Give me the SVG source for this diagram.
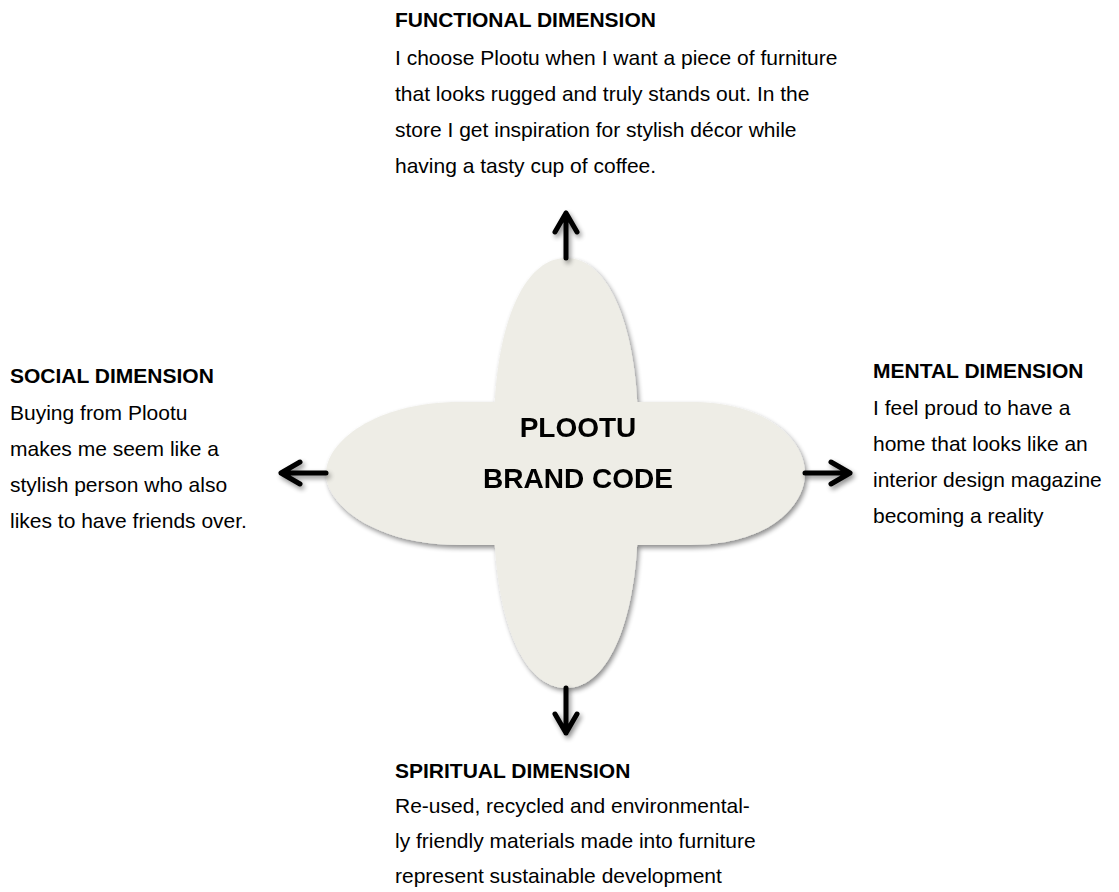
<svg xmlns="http://www.w3.org/2000/svg" width="1119" height="892" viewBox="0 0 1119 892">
<defs>
<filter id="sh" x="-20%" y="-20%" width="140%" height="140%">
<feGaussianBlur in="SourceAlpha" stdDeviation="2.5"/>
<feOffset dx="2" dy="3" result="b"/>
<feComponentTransfer><feFuncA type="linear" slope="0.45"/></feComponentTransfer>
<feMerge><feMergeNode/><feMergeNode in="SourceGraphic"/></feMerge>
</filter>
</defs>
<style>
.t{font-family:"Liberation Sans",Arial,sans-serif;font-size:21px;fill:#000}
.h{font-weight:bold}
.c{font-family:"Liberation Sans",Arial,sans-serif;font-size:28px;font-weight:bold;fill:#000;text-anchor:middle}
.shape{fill:#EEEDE6}
.arr{fill:none;stroke:#000;stroke-width:5;stroke-linecap:round;stroke-linejoin:round}
</style>
<g id="center" filter="url(#sh)">
<path class="shape" d="M494,430 C494,330 522,258 566,258 C610,258 638,330 638,430 L638,516 C638,616 610,688 566,688 C522,688 494,616 494,516 Z"/>
<path class="shape" d="M460,402 L690,402 C770,402 805,442 805,473.5 C805,505 770,545 690,545 L460,545 C375,545 326,505 326,473.5 C326,442 375,402 460,402 Z"/>
<text class="c" x="578" y="437">PLOOTU</text>
<text class="c" x="578" y="488">BRAND CODE</text>
</g>
<g id="connectors" filter="url(#sh)">
<path class="arr" d="M566,258 L566,213 M555,232 L566,213 L577,232"/>
<path class="arr" d="M566,688 L566,733 M555,714 L566,733 L577,714"/>
<path class="arr" d="M326,473 L281,473 M300,462 L281,473 L300,484"/>
<path class="arr" d="M805,473 L850,473 M831,462 L850,473 L831,484"/>
</g>
<g id="functional">
<text class="t h" x="395" y="27">FUNCTIONAL DIMENSION</text>
<text class="t" x="395" y="65">I choose Plootu when I want a piece of furniture</text>
<text class="t" x="395" y="101">that looks rugged and truly stands out. In the</text>
<text class="t" x="395" y="137">store I get inspiration for stylish décor while</text>
<text class="t" x="395" y="173">having a tasty cup of coffee.</text>
</g>
<g id="social">
<text class="t h" x="10" y="383">SOCIAL DIMENSION</text>
<text class="t" x="10" y="420">Buying from Plootu</text>
<text class="t" x="10" y="456">makes me seem like a</text>
<text class="t" x="10" y="492">stylish person who also</text>
<text class="t" x="10" y="528">likes to have friends over.</text>
</g>
<g id="mental">
<text class="t h" x="873" y="378">MENTAL DIMENSION</text>
<text class="t" x="873" y="415">I feel proud to have a</text>
<text class="t" x="873" y="451">home that looks like an</text>
<text class="t" x="873" y="487">interior design magazine</text>
<text class="t" x="873" y="523">becoming a reality</text>
</g>
<g id="spiritual">
<text class="t h" x="395" y="778">SPIRITUAL DIMENSION</text>
<text class="t" x="395" y="813">Re-used, recycled and environmental-</text>
<text class="t" x="395" y="848">ly friendly materials made into furniture</text>
<text class="t" x="395" y="883">represent sustainable development</text>
</g>
</svg>
